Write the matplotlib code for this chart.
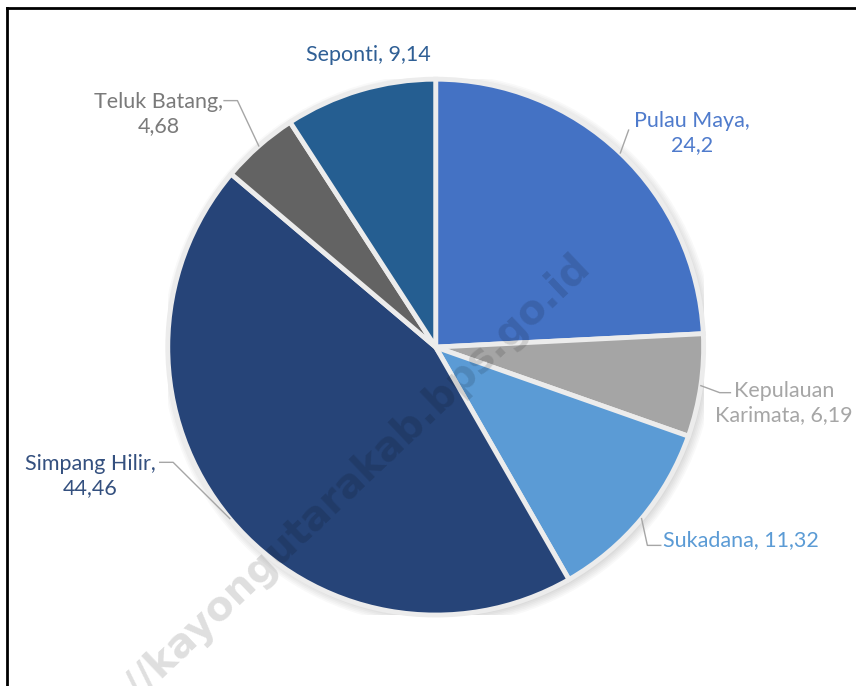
import numpy as np
import matplotlib.pyplot as plt
from matplotlib.lines import Line2D
from matplotlib.patches import Circle

plt.rcParams['font.family'] = ['Lato', 'DejaVu Sans']

# data
kecamatan = ['Pulau Maya', 'Kepulauan\nKarimata', 'Sukadana', 'Simpang Hilir', 'Teluk Batang', 'Seponti']
nilai = [24.2, 6.19, 11.32, 44.46, 4.68, 9.14]
nilai_txt = ['24,2', '6,19', '11,32', '44,46', '4,68', '9,14']

warna = ['#4472C4', '#A5A5A5', '#5B9BD5', '#264478', '#636363', '#255E91']
warna_label = ['#4f7bcc', '#a6a6a6', '#5b9bd5', '#34507f', '#7a7a7a', '#2f5f95']

# posisi label (x, y), titik siku garis, ujung garis
label_pos = [(0.955, 0.80), (1.30, -0.21), (1.14, -0.72), (-1.29, -0.48), (-1.035, 0.87), (-0.25, 1.09)]
siku = [(0.72, 0.81), (1.06, -0.17), (0.79, -0.74), (-0.98, -0.43), (-0.74, 0.92), None]
ujung = [None, (1.10, -0.17), (0.84, -0.74), (-1.03, -0.43), (-0.79, 0.92), None]
dua_baris = [True, False, False, True, True, False]

fig = plt.figure(figsize=(8.56, 6.86), dpi=100)
fig.patch.set_facecolor('white')
ax = fig.add_axes([0.509 - 0.313, 0.494 - 0.3906, 0.626, 0.7812])

# bayangan tipis
for i in range(6):
    ax.add_patch(Circle((0.01, -0.01), 1.0 + i * 0.006, color='black', alpha=0.025, lw=0, zorder=0))

wedges, _ = ax.pie(nilai, startangle=90, counterclock=False, colors=warna,
                   wedgeprops=dict(edgecolor='#ececec', linewidth=3.5))
ax.set_xlim(-1, 1)
ax.set_ylim(-1, 1)
ax.set_aspect('equal')
ax.axis('off')

for i, w in enumerate(wedges):
    ang = np.deg2rad((w.theta1 + w.theta2) / 2)
    ex, ey = np.cos(ang), np.sin(ang)
    if dua_baris[i]:
        teks = kecamatan[i] + ',\n' + nilai_txt[i]
    else:
        teks = kecamatan[i] + ', ' + nilai_txt[i]
    ax.text(label_pos[i][0], label_pos[i][1], teks, ha='center', va='center',
            fontsize=15.5, fontweight='normal', color=warna_label[i], linespacing=1.25,
            clip_on=False)
    if siku[i] is not None:
        xs = [ex, siku[i][0]]
        ys = [ey, siku[i][1]]
        if ujung[i] is not None:
            xs.append(ujung[i][0])
            ys.append(ujung[i][1])
        ax.plot(xs, ys, color='#a6a6a6', lw=1, clip_on=False)

# watermark
fig.text(584 / 856, 1 - 260 / 686, 'https://kayongutarakab.bps.go.id', rotation=43.5,
         rotation_mode='anchor', fontsize=29, fontweight='bold', family='DejaVu Sans',
         color='black', alpha=0.13, ha='right', va='center')

# bingkai
fig.add_artist(Line2D([7 / 856, 7 / 856], [0, 1 - 8 / 686], color='black', lw=2))
fig.add_artist(Line2D([7 / 856, 1], [1 - 8 / 686, 1 - 8 / 686], color='black', lw=2))

plt.savefig('out.png', dpi=100)
